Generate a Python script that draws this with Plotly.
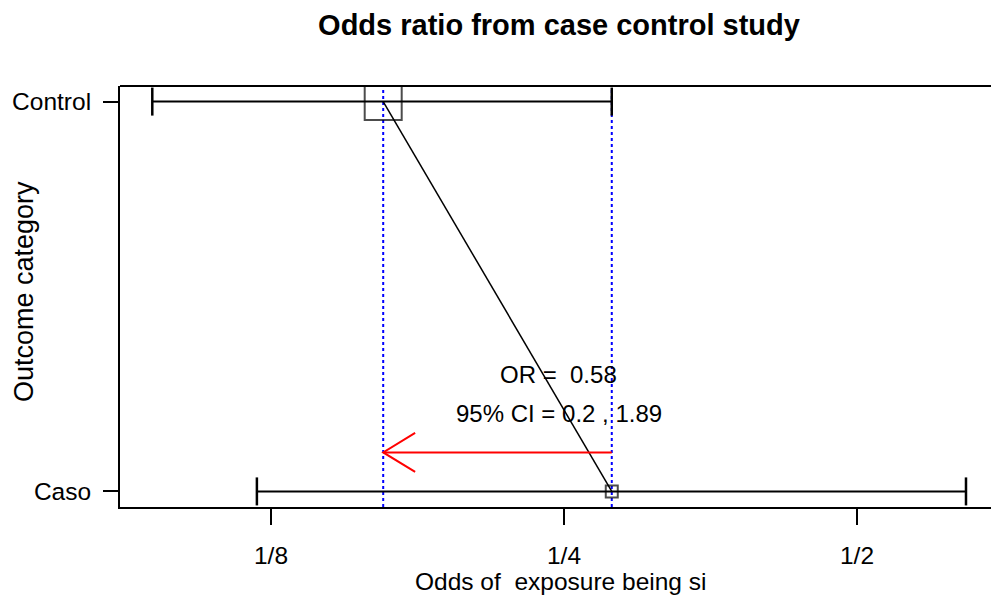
import math
import plotly.graph_objects as go

# ---- data ----
categories = ["Caso", "Control"]
odds = [0.2799, 0.1630]          # point estimate of odds for each category
ci_low = [0.1209, 0.0944]
ci_high = [0.647, 0.2799]
tick_vals = [0.125, 0.25, 0.5]
tick_text = ["1/8", "1/4", "1/2"]
or_label = "OR =  0.58"
ci_label = "95% CI = 0.2 , 1.89"
title_text = "Odds ratio from case control study"
x_title = "Odds of  exposure being si"
y_title = "Outcome category"

# ---- style ----
FONT = "Liberation Sans, Arial, Helvetica, sans-serif"
square_px = [12, 37]             # box size ~ sample size
y_pos = [1, 2]
y_range = [0.96, 2.04]
x_range_log10 = [-1.0582, -0.1634]
text_x = 0.247
or_text_y, ci_text_y, arrow_y = 1.3, 1.2, 1.1
arrow_dx_log2 = 0.109
arrow_dy = 0.05
PLOT_L, PLOT_R, PLOT_T, PLOT_B = 120, 991, 86, 507

fig = go.Figure()

# blue dotted vertical lines at each odds
for v in odds:
    fig.add_trace(go.Scatter(x=[v, v], y=y_range, mode="lines",
                             line=dict(color="blue", width=2, dash="dot"),
                             hoverinfo="skip", showlegend=False))

# CI lines with caps
for i in range(len(categories)):
    fig.add_trace(go.Scatter(
        x=[ci_low[i], ci_high[i]], y=[y_pos[i], y_pos[i]],
        mode="lines+markers",
        line=dict(color="black", width=2),
        marker=dict(symbol="line-ns-open", size=20,
                    line=dict(color="black", width=2.5)),
        hoverinfo="skip", showlegend=False))

# connecting line between the two odds
fig.add_trace(go.Scatter(x=odds, y=y_pos, mode="lines",
                         line=dict(color="black", width=1.5),
                         hoverinfo="skip", showlegend=False))

# squares
fig.add_trace(go.Scatter(x=odds, y=y_pos, mode="markers",
                         marker=dict(symbol="square-open", size=square_px,
                                     color="black",
                                     line=dict(color="black", width=2)),
                         hoverinfo="skip", showlegend=False))

# red arrow from caso odds to control odds
tip = odds[1]
fig.add_trace(go.Scatter(x=[odds[0], tip], y=[arrow_y, arrow_y], mode="lines",
                         line=dict(color="red", width=2),
                         hoverinfo="skip", showlegend=False))
back = tip * 2 ** arrow_dx_log2
fig.add_trace(go.Scatter(x=[back, tip, back],
                         y=[arrow_y + arrow_dy, arrow_y, arrow_y - arrow_dy],
                         mode="lines", line=dict(color="red", width=2),
                         hoverinfo="skip", showlegend=False))

pw = PLOT_R - PLOT_L
ph = PLOT_B - PLOT_T
annotations = [
    dict(x=math.log10(text_x), y=or_text_y, xref="x", yref="y", text=or_label,
         showarrow=False, font=dict(size=24, color="black", family=FONT),
         xanchor="center", yanchor="middle"),
    dict(x=math.log10(text_x), y=ci_text_y, xref="x", yref="y", text=ci_label,
         showarrow=False, font=dict(size=24, color="black", family=FONT),
         xanchor="center", yanchor="middle"),
    dict(x=(560 - PLOT_L) / pw, y=(PLOT_B - 581) / ph, xref="paper", yref="paper",
         text=x_title, showarrow=False,
         font=dict(size=24.5, color="black", family=FONT),
         xanchor="center", yanchor="middle"),
    dict(x=(24 - PLOT_L) / pw, y=(PLOT_B - 292) / ph, xref="paper", yref="paper",
         text=y_title, textangle=-90, showarrow=False,
         font=dict(size=27, color="black", family=FONT),
         xanchor="center", yanchor="middle"),
]

fig.update_layout(
    width=991, height=598,
    margin=dict(l=PLOT_L, r=991 - PLOT_R, t=PLOT_T, b=598 - PLOT_B, autoexpand=False),
    paper_bgcolor="white", plot_bgcolor="white",
    font=dict(family=FONT, size=24, color="black"),
    title=dict(text="<b>" + title_text + "</b>", x=559 / 991, xref="container",
               xanchor="center", y=1 - 25 / 598, yanchor="middle",
               font=dict(size=29, color="black", family=FONT)),
    xaxis=dict(type="log", range=x_range_log10, tickvals=tick_vals,
               ticktext=tick_text, showgrid=False, zeroline=False,
               showline=True, linecolor="black", linewidth=2,
               ticks="outside", ticklen=16, tickwidth=2, tickcolor="black",
               ticklabelstandoff=10,
               tickfont=dict(size=24.5, family=FONT, color="black")),
    yaxis=dict(range=y_range, tickvals=y_pos, ticktext=categories,
               showgrid=False, zeroline=False,
               showline=True, linecolor="black", linewidth=2,
               ticks="outside", ticklen=15, tickwidth=2, tickcolor="black",
               ticklabelstandoff=7,
               tickfont=dict(size=24.5, family=FONT, color="black")),
    annotations=annotations,
    shapes=[dict(type="line", xref="paper", yref="paper", x0=0, x1=1, y0=1, y1=1,
                 line=dict(color="black", width=2))],
)

fig.write_html("out.html", config={"displayModeBar": False},
               post_script="document.body.style.margin='0';document.body.style.padding='0';")
